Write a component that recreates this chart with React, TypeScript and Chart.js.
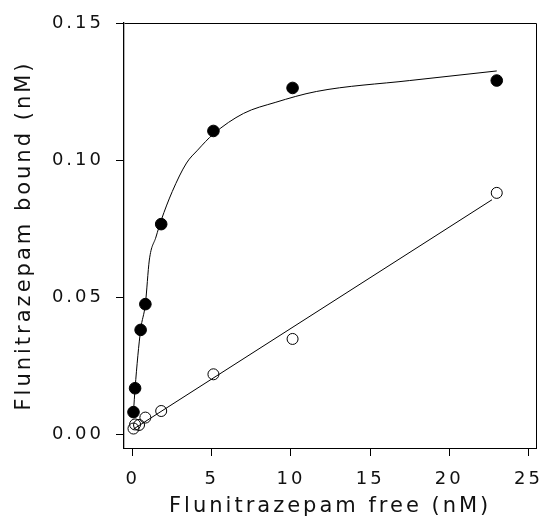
import React, { useEffect, useRef } from "react";
import { Chart, registerables } from "chart.js";

Chart.register(...registerables);

// Binding data (nM)
const filledFree = [0.05, 0.15, 0.5, 0.8, 1.8, 5.1, 10.1, 23.0];
const filledBound = [0.008, 0.0167, 0.038, 0.0474, 0.0766, 0.1106, 0.1263, 0.129];

const openFree = [0.05, 0.15, 0.4, 0.8, 1.8, 5.1, 10.1, 23.0];
const openBound = [0.002, 0.0035, 0.0033, 0.006, 0.0084, 0.0218, 0.0347, 0.088];

// Fitted curve
const curveFree = [0.05, 0.15, 0.5, 0.8, 1.05, 1.47, 1.8, 2.5, 3.4, 4.1, 5.1, 7.0, 9.0, 11.6, 17.5, 23.0];
const curveBound = [0.008, 0.0167, 0.038, 0.0474, 0.0635, 0.0719, 0.078, 0.0885, 0.0989, 0.1036, 0.1095, 0.117, 0.121, 0.125, 0.129, 0.1325];

// Fitted straight line
const lineFree = [0.05, 22.7];
const lineBound = [0.0018, 0.0855];

const xTicks = [0, 5, 10, 15, 20, 25];
const yTicks = [0.0, 0.05, 0.1, 0.15];

const FONT = "'DejaVu Sans', sans-serif";
const INK = "#111";

const toPts = (xs: number[], ys: number[]) => xs.map((x, i) => ({ x, y: ys[i] }));

const spacingPlugin = {
  id: "spacing",
  beforeLayout(chart: any) {
    chart.ctx.letterSpacing = "3px";
  },
  beforeDraw(chart: any) {
    chart.ctx.letterSpacing = "3px";
  },
};

const framePlugin = {
  id: "frame",
  afterDraw(chart: any) {
    const { ctx, chartArea } = chart;
    const { left, top, right, bottom } = chartArea;
    ctx.save();
    ctx.strokeStyle = "#000";
    ctx.lineWidth = 1;
    ctx.beginPath();
    ctx.moveTo(Math.round(left) + 0.5, Math.round(top) + 0.5);
    ctx.lineTo(Math.round(right) + 0.5, Math.round(top) + 0.5);
    ctx.lineTo(Math.round(right) + 0.5, Math.round(bottom) + 0.5);
    ctx.stroke();
    ctx.restore();
  },
};

export default function App() {
  const ref = useRef<HTMLCanvasElement | null>(null);

  useEffect(() => {
    if (!ref.current) return;
    const chart = new Chart(ref.current, {
      type: "scatter",
      data: {
        datasets: [
          {
            label: "curve",
            data: toPts(curveFree, curveBound),
            showLine: true,
            borderColor: "#000",
            borderWidth: 1,
            pointRadius: 0,
            cubicInterpolationMode: "monotone",
            fill: false,
          } as any,
          {
            label: "line",
            data: toPts(lineFree, lineBound),
            showLine: true,
            borderColor: "#000",
            borderWidth: 1,
            pointRadius: 0,
            fill: false,
          },
          {
            label: "filled",
            data: toPts(filledFree, filledBound),
            pointRadius: 5.8,
            pointBackgroundColor: "#000",
            pointBorderColor: "#000",
            pointBorderWidth: 1,
          },
          {
            label: "open",
            data: toPts(openFree, openBound),
            pointRadius: 5.5,
            pointBackgroundColor: "rgba(0,0,0,0)",
            pointBorderColor: "#000",
            pointBorderWidth: 1,
          },
        ],
      },
      options: {
        animation: false,
        responsive: false,
        layout: { padding: { top: 23, right: 7, left: 0, bottom: 0 } },
        plugins: {
          legend: { display: false },
          tooltip: { enabled: false },
        },
        scales: {
          x: {
            type: "linear",
            min: -0.55,
            max: 25.5,
            afterBuildTicks: (s: any) => {
              s.ticks = xTicks.map((v) => ({ value: v }));
            },
            afterFit: (s: any) => {
              s.height = 71;
            },
            ticks: {
              color: INK,
              font: { family: FONT, size: 18 },
              padding: 13,
              callback: (v: any) => String(v),
            },
            grid: {
              drawOnChartArea: false,
              drawTicks: true,
              tickLength: 8,
              color: "#000",
            },
            border: { display: true, color: "#000", width: 1 },
            title: {
              display: true,
              text: "Flunitrazepam free (nM)",
              color: INK,
              font: { family: FONT, size: 21 },
              padding: { top: 0, bottom: 0 },
            },
          },
          y: {
            type: "linear",
            min: -0.0051,
            max: 0.15,
            afterBuildTicks: (s: any) => {
              s.ticks = yTicks.map((v) => ({ value: v }));
            },
            afterFit: (s: any) => {
              s.width = 124;
            },
            ticks: {
              color: INK,
              font: { family: FONT, size: 18 },
              padding: 12,
              callback: (v: any) => Number(v).toFixed(2),
            },
            grid: {
              drawOnChartArea: false,
              drawTicks: true,
              tickLength: 8,
              color: "#000",
            },
            border: { display: true, color: "#000", width: 1.3 },
            title: {
              display: true,
              text: "Flunitrazepam bound (nM)",
              color: INK,
              font: { family: FONT, size: 21 },
              padding: { top: 12, bottom: 0 },
            },
          },
        },
      },
      plugins: [spacingPlugin, framePlugin],
    });
    return () => chart.destroy();
  }, []);

  return (
    <div style={{ position: "absolute", left: 0, top: 0, width: 556, height: 519, background: "#fff" }}>
      <canvas ref={ref} width={556} height={519} style={{ display: "block" }} />
    </div>
  );
}
